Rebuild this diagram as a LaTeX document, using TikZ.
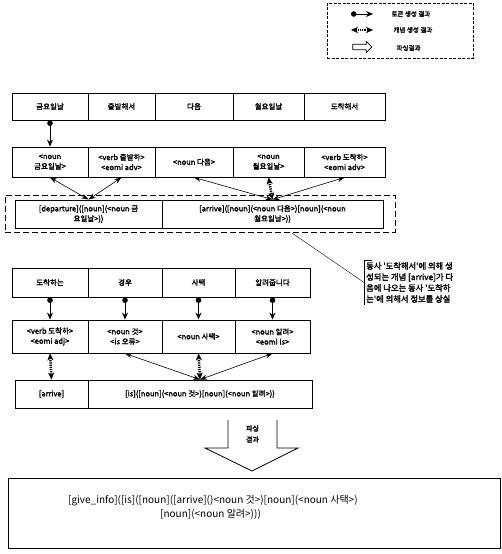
\documentclass[tikz,border=0pt]{standalone}
\usepackage{fontspec}
\setmainfont{Noto Sans CJK KR}
\newfontfamily\hv{Noto Sans CJK KR}[FakeBold=2]
\usetikzlibrary{arrows.meta,shapes.arrows}

\begin{document}
\begin{tikzpicture}[x=1pt,y=-1pt,
	box/.style={draw, line width=0.9pt, align=center, inner sep=1pt, font=\fontsize{7.5}{10}\hv},
	tok/.style={{Circle[length=5.5pt]}-{Stealth[length=7pt,width=6pt]}, line width=1pt},
	cpt/.style={{Stealth[length=7pt,width=5pt]}-{Stealth[length=7pt,width=5pt]}, semithick},
	cptv/.style={{Stealth[length=7pt,width=6pt,line width=0.4pt]}-{Stealth[length=7pt,width=6pt,line width=0.4pt]}, line width=2.5pt, dash pattern=on 1.2pt off 1pt},
	lgd/.style={font=\fontsize{6.5}{7}\hv, anchor=west}]
	\useasboundingbox (0,0) rectangle (501,554);
	% legende
	\node[draw, thick, dash pattern=on 3pt off 1.5pt, minimum width=146, minimum height=55] (lg) at (400,30.5) {};
	\coordinate (la1) at (351,14); \coordinate (lb1) at (373,14);
	\coordinate (la2) at (351,30); \coordinate (lb2) at (373,30);
	\draw[tok] (la1) -- (lb1);
	\draw[cptv] (la2) -- (lb2);
	\node[single arrow, draw, thick, minimum height=19, minimum width=11, single arrow head extend=1.5pt, inner sep=1pt] (l3a) at (361,47) {};
	\node[lgd] (l1) at (388,14) {토큰 생성 결과};
	\node[lgd] (l2) at (390,30) {개념 생성 결과};
	\node[lgd] (l3) at (393,48) {파싱결과};

	% premiere phrase
	\node[box, minimum width=76, minimum height=27] (t1) at (50,106.5) {금요일날};
	\node[box, minimum width=67, minimum height=27] (t2) at (121.5,106.5) {출발해서};
	\node[box, minimum width=78, minimum height=27] (t3) at (194,106.5) {다음};
	\node[box, minimum width=71, minimum height=27] (t4) at (268.5,106.5) {월요일날};
	\node[box, minimum width=81, minimum height=27] (t5) at (344.5,106.5) {도착해서};

	\node[box, minimum width=76, minimum height=30] (m1) at (50,162) {<noun\\금요일날>};
	\node[box, minimum width=67, minimum height=30] (m2) at (121.5,162) {<verb 출발하>\\<eomi adv>};
	\node[box, minimum width=78, minimum height=30] (m3) at (194,162) {<noun 다음>};
	\node[box, minimum width=71, minimum height=30] (m4) at (268.5,162) {<noun\\월요일날>};
	\node[box, minimum width=81, minimum height=30] (m5) at (344.5,162) {<verb 도착하>\\<eomi adv>};

	\node[draw, thick, dash pattern=on 6pt off 3pt, minimum width=390, minimum height=37] (cb) at (200,213.5) {};
	\node[box, minimum width=147, minimum height=28] (c1) at (88.5,214) {[departure]([noun](<noun 금\\요일날>))};
	\node[box, minimum width=221, minimum height=28] (c2) at (272.5,214) {[arrive]([noun](<noun 다음>)[noun](<noun\\월요일날>))};

	\draw[tok] (t1.south) -- (m1.north);
	\draw[cpt] (m1.south) -- (c1.north);
	\draw[cpt] (m2.south) -- (c1.north);
	\draw[cpt] (m3.south) -- (c2.north);
	\draw[cptv] (m4.south) -- (c2.north);
	\draw[cpt] (m5.south) -- (c2.north);

	% remarque
	\node[anchor=north west, align=left, inner sep=2pt, font=\fontsize{8.3}{11}\hv] (nt) at (364,260)
		{동사 '도착해서'에 의해 생\\성되는 개념 [arrive]가 다\\음에 나오는 동사 '도착하\\는'에 의해서 정보를 상실};
	\draw[thick] ([xshift=8pt]nt.north west) -- (nt.north west) -- (nt.south west);
	\coordinate (cl) at (292,233);
	\draw (cl) -- (nt.west);

	% deuxieme phrase
	\node[box, minimum width=76, minimum height=29] (u1) at (50,282.5) {도착하는};
	\node[box, minimum width=74, minimum height=29] (u2) at (125,282.5) {경우};
	\node[box, minimum width=73, minimum height=29] (u3) at (198.5,282.5) {사택};
	\node[box, minimum width=75, minimum height=29] (u4) at (272.5,282.5) {알려줍니다};

	\node[box, minimum width=76, minimum height=33] (v1) at (50,336.5) {<verb 도착하>\\<eomi adj>};
	\node[box, minimum width=74, minimum height=33] (v2) at (125,336.5) {<noun 것>\\<is 오류>};
	\node[box, minimum width=73, minimum height=33] (v3) at (198.5,336.5) {<noun 사택>};
	\node[box, minimum width=75, minimum height=33] (v4) at (272.5,336.5) {<noun 알려>\\<eomi is>};

	\node[box, minimum width=73, minimum height=28] (w1) at (51.5,394) {[arrive]};
	\node[box, minimum width=224, minimum height=28] (w2) at (200,394) {[is]([noun](<noun 것>)[noun](<noun 알려>))};

	\foreach \i in {1,...,4}
		\draw[tok] (u\i.south) -- (v\i.north);
	\draw[cptv] (v1.south) -- (w1.north);
	\draw[cpt] (v2.south) -- (w2.north);
	\draw[cptv] (v3.south) -- (w2.north);
	\draw[cpt] (v4.south) -- (w2.north);

	% resultat
	\draw[thick] (228,420) -- (228,448) -- (205,448) -- (252,471) -- (298,448) -- (277,448) -- (277,420);
	\node[align=center, inner sep=0pt, font=\fontsize{7}{11}\hv] (pr) at (252.5,434) {파싱\\결과};
	\node[draw, thick, minimum width=492, minimum height=70] (res) at (254,513) {};
	\node[anchor=west, align=left, inner sep=0pt, font=\fontsize{10}{14}\selectfont] (rt) at (68,507)
		{[give\_info]([is]([noun]([arrive]()<noun 것>)[noun](<noun 사택>)\\\hspace{92pt}[noun](<noun 알려>)))};
\end{tikzpicture}
\end{document}
